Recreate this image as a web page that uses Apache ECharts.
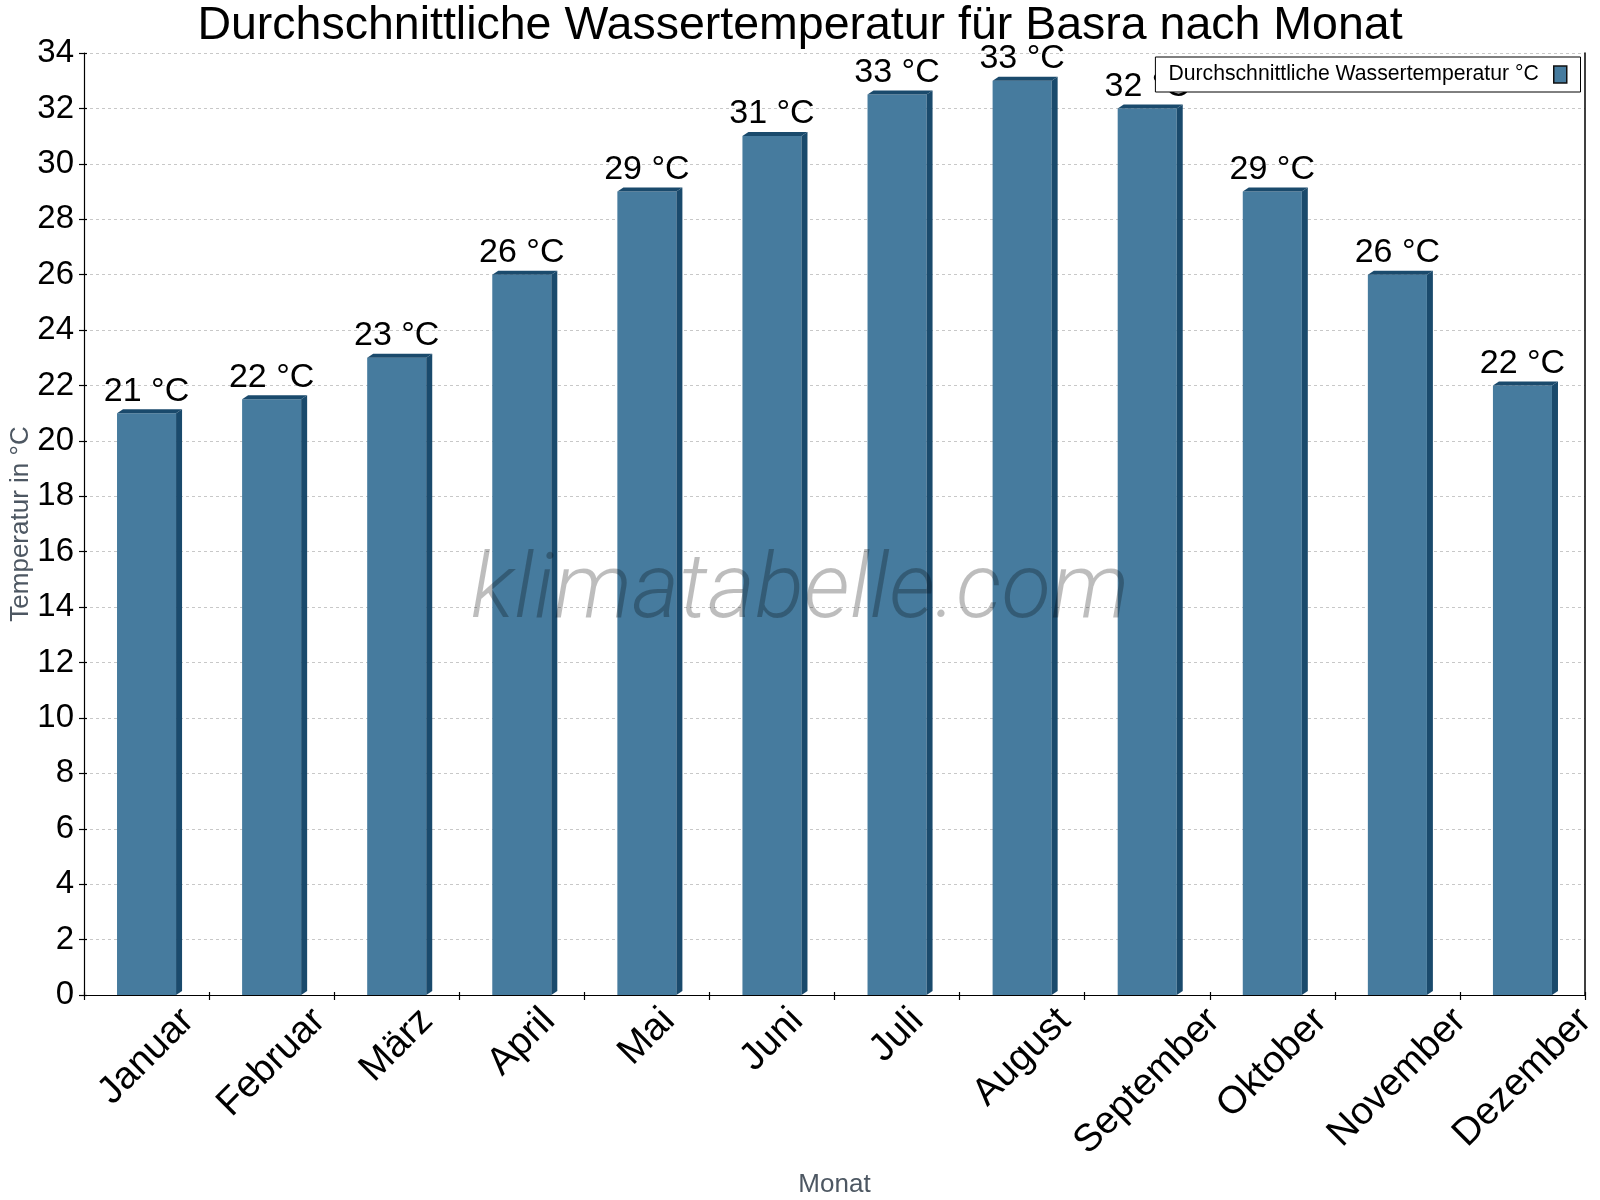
<!DOCTYPE html>
<html>
<head>
<meta charset="utf-8">
<script src="https://cdn.jsdelivr.net/npm/echarts@6/dist/echarts.min.js"></script>
<style>
html,body{margin:0;padding:0;background:#fff;}
#chart{width:1600px;height:1200px;}
</style>
</head>
<body>
<div id="chart"></div>
<script>
// ---- data ----
const months = ['Januar','Februar','März','April','Mai','Juni','Juli','August','September','Oktober','November','Dezember'];
const waterTemp = [21, 21.5, 23, 26, 29, 31, 32.5, 33, 32, 29, 26, 22];
const seriesName = 'Durchschnittliche Wassertemperatur °C';
const titleText = 'Durchschnittliche Wassertemperatur für Basra nach Monat';
const yMin = 0, yMax = 34, yStep = 2;

// ---- styles ----
const FONT = '"Liberation Sans", Arial, sans-serif';
const FRONT = '#467b9e';
const DARK = '#1a4a6c';
const X_FS = 38.5;

// rotated x labels: centre each rotated label under its category (label box top ~ fixed)
const mctx = document.createElement('canvas').getContext('2d');
mctx.font = X_FS + 'px "Liberation Sans"';
const xCats = months.map(m => {
  const w = mctx.measureText(m).width;
  const s = 0.25 * (w + 0.8 * X_FS);
  return { value: m, textStyle: {
    align: 'center', verticalAlign: 'top',
    lineHeight: 2 * s,
    fontFamily: FONT, fontSize: X_FS, color: '#000',
    padding: [0, 2 * s, 0, 0]
  } };
});

const chart = echarts.init(document.getElementById('chart'), null, {renderer: 'canvas'});

const option = {
  backgroundColor: '#fff',
  animation: false,
  title: {
    text: titleText,
    left: 'center',
    top: -2,
    textStyle: {fontFamily: FONT, fontSize: 46.5, fontWeight: 'normal', color: '#000'}
  },
  legend: {
    data: [{name: seriesName, itemStyle: {color: FRONT, borderColor: '#111', borderWidth: 1.5}}],
    right: 19.5,
    top: 57,
    align: 'right',
    orient: 'horizontal',
    icon: 'rect',
    itemWidth: 13,
    itemHeight: 17,
    padding: [7, 13, 7, 13],
    borderColor: '#000',
    borderWidth: 1,
    borderRadius: 0,
    backgroundColor: '#fff',
    z: 20,
    textStyle: {fontFamily: FONT, fontSize: 21.2, color: '#000', padding: [0, 10, 0, 0]}
  },
  grid: {left: 84, right: 15, top: 53, bottom: 205, containLabel: false, outerBoundsMode: 'none'},
  xAxis: [{
    type: 'category',
    data: xCats,
    boundaryGap: true,
    name: 'Monat',
    nameLocation: 'middle',
    nameGap: 177,
    nameMoveOverlap: false,
    nameTextStyle: {fontFamily: FONT, fontSize: 26, color: '#4d5762'},
    axisLine: {show: true, lineStyle: {color: '#000', width: 1.2}},
    axisTick: {show: true, inside: false, length: 5, alignWithLabel: false, lineStyle: {color: '#000', width: 1.2}},
    axisLabel: {
      show: true, interval: 0, rotate: 45, margin: 9,
      align: 'center', verticalAlign: 'top',
      fontFamily: FONT, fontSize: X_FS, color: '#000', hideOverlap: false
    },
    splitLine: {show: false}
  }, {
    type: 'category',
    data: months,
    position: 'bottom',
    gridIndex: 0,
    axisLine: {show: false},
    axisTick: {show: true, inside: true, length: 3, lineStyle: {color: '#000', width: 1.2}},
    axisLabel: {show: false},
    splitLine: {show: false}
  }],
  yAxis: [{
    type: 'value',
    min: yMin, max: yMax, interval: yStep,
    position: 'left',
    name: 'Temperatur in °C',
    nameLocation: 'middle',
    nameGap: 50,
    nameMoveOverlap: false,
    nameTextStyle: {fontFamily: FONT, fontSize: 26, color: '#4d5762'},
    axisLine: {show: true, lineStyle: {color: '#000', width: 1.2}},
    axisTick: {show: true, inside: false, length: 5, lineStyle: {color: '#000', width: 1.2}},
    axisLabel: {fontFamily: FONT, fontSize: 33, color: '#000', margin: 10},
    splitLine: {show: true, lineStyle: {color: '#c8c8c8', width: 1, type: [3, 3]}}
  }, {
    type: 'value',
    min: yMin, max: yMax, interval: yStep,
    position: 'left',
    axisLine: {show: false},
    axisTick: {show: true, inside: true, length: 3, lineStyle: {color: '#000', width: 1.2}},
    axisLabel: {show: false},
    splitLine: {show: false}
  }, {
    type: 'value',
    min: yMin, max: yMax, interval: yStep,
    position: 'right',
    axisLine: {show: true, onZero: false, lineStyle: {color: '#000', width: 1.5}},
    axisTick: {show: false},
    axisLabel: {show: false},
    splitLine: {show: false}
  }],
  graphic: [{
    type: 'text',
    x: 800,
    y: 594,
    z: 100,
    silent: true,
    style: {
      text: 'klimatabelle.com',
      fontFamily: 'Roboto',
      fontStyle: 'italic',
      fontWeight: 300,
      fontSize: 91,
      fill: 'rgba(0,0,0,0.26)',
      align: 'center',
      verticalAlign: 'middle'
    }
  }],
  series: [{
    type: 'custom',
    name: seriesName,
    xAxisIndex: 0,
    yAxisIndex: 0,
    clip: false,
    itemStyle: {color: FRONT, borderColor: '#111'},
    encode: {x: 0, y: 1},
    data: waterTemp.map((v, i) => [i, v]),
    renderItem: function (params, api) {
      const idx = api.value(0);
      const v = api.value(1);
      const top = api.coord([idx, v]);
      const base = api.coord([idx, 0]);
      const band = api.size([1, 0])[0];
      const w = band * 0.472;
      const x0 = top[0] - w / 2, x1 = top[0] + w / 2;
      const yT = top[1], yB = base[1];
      const dx = 6, dy = 4;
      return {
        type: 'group',
        children: [
          {type: 'rect', shape: {x: x0, y: yT, width: w, height: yB - yT}, style: {fill: FRONT}},
          {type: 'polygon', shape: {points: [[x1, yT], [x1 + dx, yT - dy], [x1 + dx, yB - dy], [x1, yB]]}, style: {fill: DARK}},
          {type: 'polygon', shape: {points: [[x0, yT], [x0 + dx, yT - dy], [x1 + dx, yT - dy], [x1, yT]]}, style: {fill: DARK}},
          {type: 'text', x: top[0], y: yT - dy - 1, style: {
            text: Math.round(v) + ' °C', fontFamily: FONT, fontSize: 34, fill: '#000',
            align: 'center', verticalAlign: 'bottom'
          }}
        ]
      };
    }
  }]
};
chart.setOption(option);
</script>
</body>
</html>
